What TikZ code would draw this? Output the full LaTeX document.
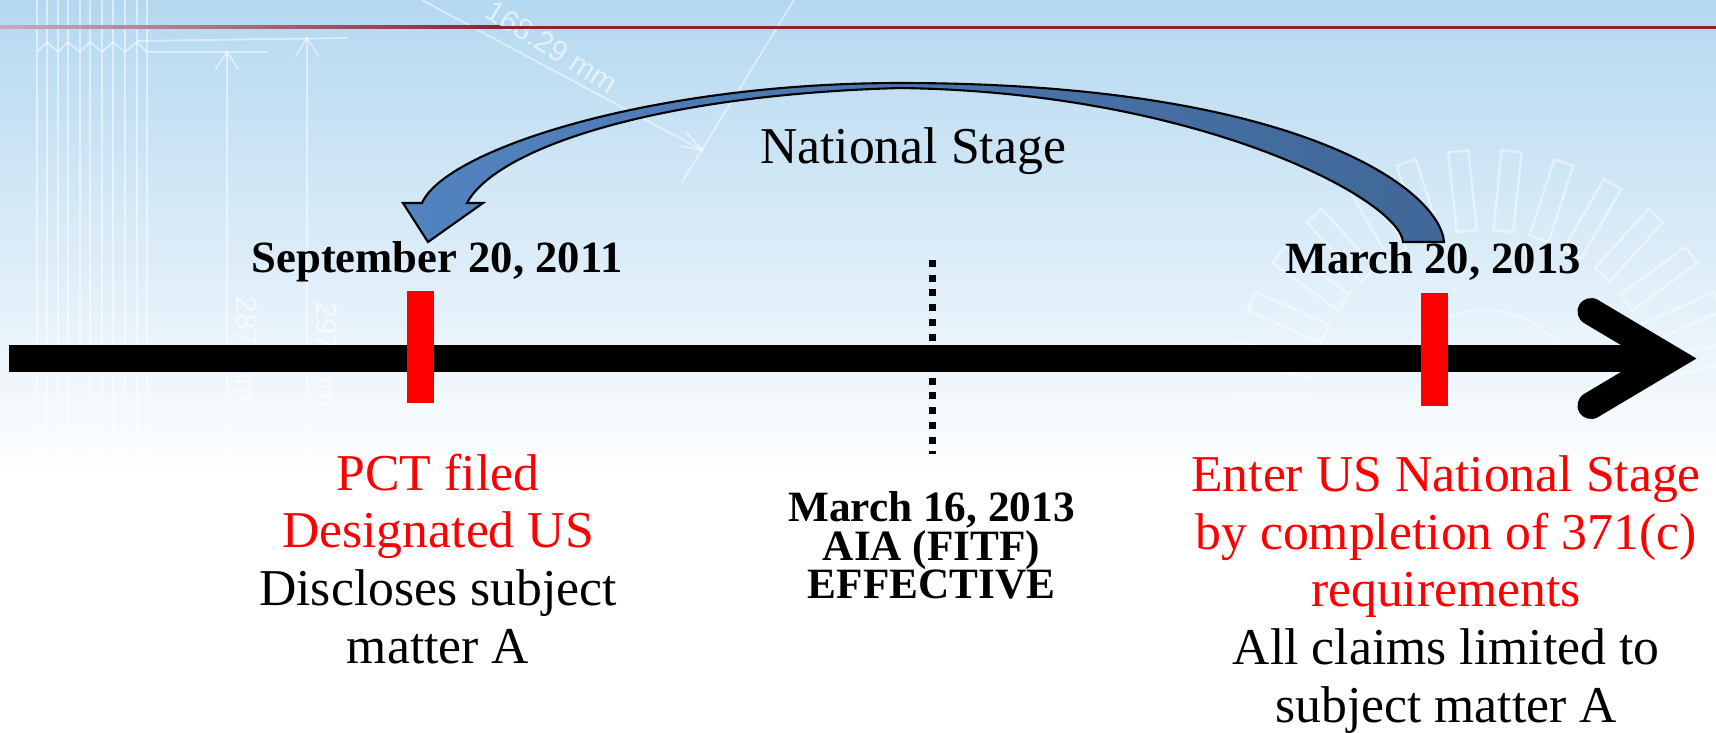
\documentclass[tikz,border=0pt]{standalone}
\usepackage{fontspec}
\setmainfont{Liberation Serif}
\newfontfamily\dimfont{Liberation Sans}
\definecolor{skytop}{RGB}{180,216,240}
\definecolor{rulered}{RGB}{140,35,50}
\definecolor{rulefade}{RGB}{200,170,190}
\definecolor{arrowlight}{RGB}{82,131,192}
\definecolor{arrowdark}{RGB}{64,103,151}

\begin{document}
\begin{tikzpicture}[x=0.01cm,y=-0.01cm,
          sketch/.style={white,opacity=0.5,line width=0.5pt},
          gearline/.style={white,opacity=0.45,line width=0.7pt},
          sketchtext/.style={white,opacity=0.6,inner sep=0pt,font=\dimfont\fontsize{8.4}{10}\selectfont},
          tick/.style={fill=red,inner sep=0pt,minimum width=0.27cm,minimum height=1.12cm},
          body/.style={align=center,inner sep=0pt,font=\fontsize{14.7}{16.4}\selectfont},
          datelabel/.style={inner sep=0pt,font=\fontsize{12.7}{11}\selectfont\bfseries},
          aialabel/.style={align=center,inner sep=0pt,font=\fontsize{12.3}{10.9}\selectfont\bfseries}]
          \useasboundingbox (0,0) rectangle (1716,732);
          \fill[white] (0,0) rectangle (1716,732);
          \shade[top color=skytop,bottom color=white] (0,0) rectangle (1716,480);
          \foreach \x in {37,47,58,68,80,90,102,113,125,137,147}
            \draw[sketch] (\x,0) -- (\x,470);
          \draw[sketch] (37,52) -- (47,42) -- (58,52) -- (68,42) -- (80,52) -- (90,42)
            -- (102,52) -- (113,42) -- (125,52) -- (137,42) -- (147,52) -- (267,52);
          \draw[sketch] (137,41) -- (347,38);
          \draw[sketch] (227,52) -- (227,470);
          \draw[sketch] (215,70) -- (227,52) -- (239,70);
          \draw[sketch] (307,38) -- (307,470);
          \draw[sketch] (295,57) -- (307,38) -- (319,57);
          \node[sketchtext,rotate=-90] (dim287) at (247,350) {287 mm};
          \node[sketchtext,rotate=-90] (dim297) at (327,355) {297 mm};
          \draw[sketch] (422,0) -- (702,150);
          \draw[sketch] (686,132) -- (702,150) -- (680,146);
          \draw[sketch] (682,182) -- (794,0);
          \node[sketchtext,rotate=-32] (dim168) at (552,47) {168.29 mm};
          \begin{scope}[shift={(1485,405)}]
            \foreach \a in {12,24,...,180}
              \draw[gearline,rotate=\a] (175,-10) rectangle (255,10);
            \draw[gearline] (200:95) arc[start angle=200,end angle=340,radius=95];
          \end{scope}
          \shade[left color=rulefade,right color=rulered] (0,25.5) rectangle (500,28.5);
          \fill[rulered] (500,25.5) rectangle (1716,28.5);
          \draw[line width=0.6pt,left color=arrowlight,right color=arrowdark]
            (1444,242) .. controls (1440,190) and (1300,83) .. (900,83)
            .. controls (650,83) and (445,150) .. (422,203)
            -- (403,203) -- (428,242) -- (483,203) -- (467,203)
            .. controls (495,150) and (650,95) .. (900,88)
            .. controls (1200,92) and (1400,200) .. (1403,242) -- cycle;
          \coordinate (aiatop) at (932,260);
          \coordinate (aiabot) at (932,454);
          \draw[line width=0.07cm,dash pattern=on 0.07cm off 0.077cm] (aiatop) -- (aiabot);
          \coordinate (tlstart) at (9,358.5);
          \coordinate (tlend) at (1670,358.5);
          \coordinate (chevtop) at (1591,311.5);
          \coordinate (chevbot) at (1591,405.5);
          \draw[line width=0.27cm] (tlstart) -- (tlend);
          \draw[line width=0.27cm,line cap=round,line join=miter] (chevtop) -- (tlend) -- (chevbot);
          \node[tick] (pcttick) at (420.5,347) {};
          \node[tick] (entertick) at (1434,349.5) {};
          \node[body,anchor=base] (stage) at (913,163) {National Stage};
          \node[datelabel,anchor=base] (pctdate) at (437,272) {September 20, 2011};
          \node[datelabel,anchor=base] (enterdate) at (1433,273) {March 20, 2013};
          \node[body,anchor=north] (pct) at (438,453)
            {\textcolor{red}{PCT filed}\\\textcolor{red}{Designated US}\\Discloses subject\\matter A};
          \node[aialabel,anchor=north] (aia) at (931.5,491)
            {March 16, 2013\\AIA (FITF)\\EFFECTIVE};
          \node[body,anchor=north] (enter) at (1446,455)
            {\textcolor{red}{Enter US National Stage}\\\textcolor{red}{by completion of 371(c)}\\\textcolor{red}{requirements}\\All claims limited to\\subject matter A};
        \end{tikzpicture}
\end{document}
